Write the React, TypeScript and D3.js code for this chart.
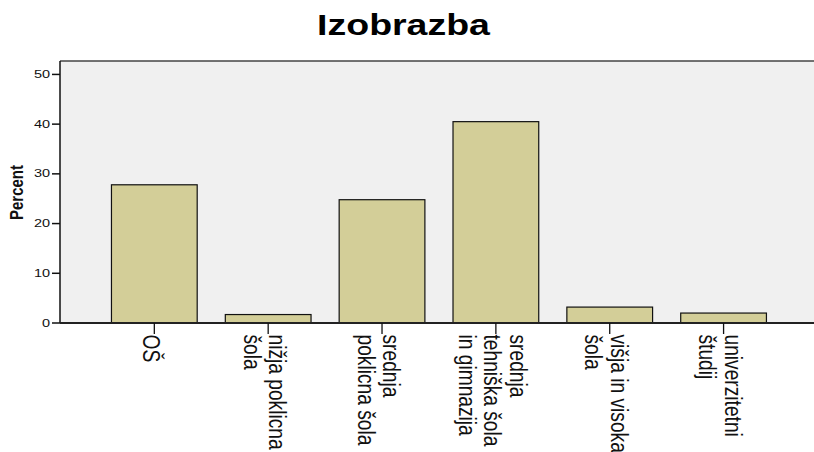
import React, { useRef, useEffect } from 'react';
import * as d3 from 'd3';

const categories = ["OŠ", "nižja poklicna šola", "srednja poklicna šola", "srednja tehniška šola in gimnazija", "višja in visoka šola", "univerzitetni študij"];
const labelLines = [
  ["OŠ"],
  ["nižja poklicna", "šola"],
  ["srednja", "poklicna šola"],
  ["srednja", "tehniška šola", "in gimnazija"],
  ["višja in visoka", "šola"],
  ["univerzitetni", "študij"],
];
const percents = [27.8, 1.7, 24.8, 40.5, 3.2, 2.0];
const yTicks = [0, 10, 20, 30, 40, 50];

const FONT = "'Liberation Sans', Arial, sans-serif";

const App = () => {
  const ref = useRef<SVGSVGElement | null>(null);

  useEffect(() => {
    const width = 814;
    const height = 452;
    const plot = { left: 60, top: 61, bottom: 323, right: 814 };

    const svg = d3.select(ref.current);
    svg.selectAll("*").remove();

    const x = d3.scaleBand<string>()
      .domain(categories)
      .range([97.4, 780.5])
      .paddingInner(0.247)
      .paddingOuter(0.1235);

    const y = d3.scaleLinear()
      .domain([0, 52.7])
      .range([plot.bottom, plot.top]);

    // plot background
    svg.append("rect")
      .attr("x", plot.left)
      .attr("y", plot.top)
      .attr("width", plot.right - plot.left)
      .attr("height", plot.bottom - plot.top)
      .attr("fill", "#F0F0F0");

    svg.append("line")
      .attr("x1", plot.left).attr("x2", plot.right)
      .attr("y1", plot.top).attr("y2", plot.top)
      .attr("stroke", "#444").attr("stroke-width", 1.5);

    // bars
    svg.selectAll(".bar")
      .data(percents)
      .enter()
      .append("rect")
      .attr("class", "bar")
      .attr("x", (d, i) => x(categories[i]) as number)
      .attr("y", d => y(d))
      .attr("width", x.bandwidth())
      .attr("height", d => y(0) - y(d))
      .attr("fill", "#D3CE98")
      .attr("stroke", "#111")
      .attr("stroke-width", 1.2);

    // axes lines
    svg.append("line")
      .attr("x1", plot.left).attr("x2", plot.left)
      .attr("y1", plot.top).attr("y2", plot.bottom)
      .attr("stroke", "#111").attr("stroke-width", 1.5);
    svg.append("line")
      .attr("x1", plot.left).attr("x2", plot.right)
      .attr("y1", plot.bottom).attr("y2", plot.bottom)
      .attr("stroke", "#222").attr("stroke-width", 2);

    // y ticks
    const yt = svg.selectAll(".ytick")
      .data(yTicks)
      .enter()
      .append("g")
      .attr("class", "ytick");
    yt.append("line")
      .attr("x1", 52).attr("x2", plot.left)
      .attr("y1", d => y(d)).attr("y2", d => y(d))
      .attr("stroke", "#111").attr("stroke-width", 1.5);
    yt.append("text")
      .attr("transform", d => `translate(50, ${y(d) + 3.6}) scale(1.45, 1)`)
      .attr("text-anchor", "end")
      .attr("font-family", FONT)
      .attr("font-size", 10)
      .attr("fill", "#111")
      .text(d => d);

    // y title
    svg.append("text")
      .attr("transform", "translate(23, 192.5) scale(1.25, 1) rotate(-90)")
      .attr("text-anchor", "middle")
      .attr("font-family", FONT)
      .attr("font-weight", "bold")
      .attr("font-size", 15)
      .attr("fill", "#111")
      .text("Percent");

    // x ticks and labels
    const lh = 25.6;
    categories.forEach((c, i) => {
      const cx = (x(c) as number) + x.bandwidth() / 2;
      svg.append("line")
        .attr("x1", cx).attr("x2", cx)
        .attr("y1", plot.bottom).attr("y2", 334)
        .attr("stroke", "#111").attr("stroke-width", 1.3);
      const lines = labelLines[i];
      lines.forEach((t, k) => {
        const xb = cx - 11.6 + ((lines.length - 1) / 2 - k) * lh;
        svg.append("text")
          .attr("transform", `translate(${xb}, 334.5) scale(1.2, 1) rotate(90)`)
          .attr("font-family", FONT)
          .attr("font-size", 19.2)
          .attr("fill", "#111")
          .text(t);
      });
    });

    // title
    svg.append("text")
      .attr("transform", "translate(403.5, 35) scale(1.25, 1)")
      .attr("text-anchor", "middle")
      .attr("font-family", FONT)
      .attr("font-weight", "bold")
      .attr("font-size", 30)
      .attr("fill", "#000")
      .text("Izobrazba");

    svg.attr("width", width).attr("height", height);
  }, []);

  return (
    <svg
      ref={ref}
      width={814}
      height={452}
      style={{ position: "absolute", left: 0, top: 0, background: "#fff", overflow: "hidden" }}
    />
  );
};

export default App;
